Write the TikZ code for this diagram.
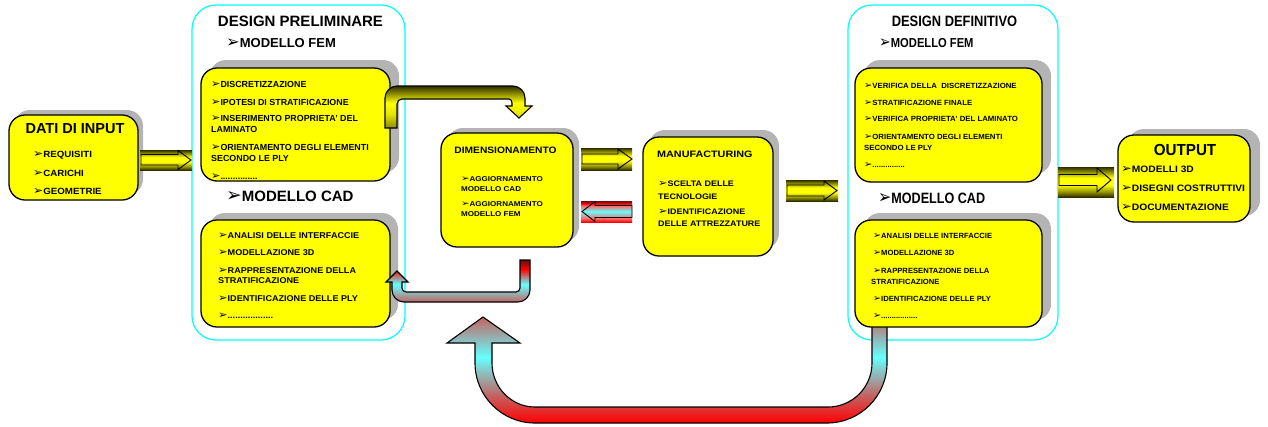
\documentclass[tikz,border=0pt]{standalone}
\usepackage{fontspec}
\setmainfont{Liberation Sans}
\newfontfamily\dv{DejaVu Sans}
\usetikzlibrary{shadows}
\newcommand\bl{{\dv\scalebox{1.25}{➢}}}
\newcommand\T[3]{\scalebox{#1}[1]{\fontsize{#2pt}{#2pt}\selectfont\bfseries #3}}
\definecolor{yel}{RGB}{255,255,0}
\definecolor{cyn}{RGB}{0,255,255}
\definecolor{rd}{RGB}{255,0,0}
\definecolor{ol1}{HTML}{2E2E00}
\definecolor{ol2}{HTML}{8C8C00}
\definecolor{ol3}{HTML}{E6E600}
\definecolor{cy}{HTML}{66FFFF}
\definecolor{rg}{HTML}{C46262}
\definecolor{rd2}{HTML}{FF6666}
\definecolor{rdk}{HTML}{661010}
\definecolor{shd}{HTML}{B4B4B4}
\pgfdeclareverticalshading{ybar}{100bp}{color(0bp)=(ol1); color(25bp)=(ol1); color(33bp)=(ol2); color(45bp)=(yel); color(57bp)=(yel); color(67bp)=(ol2); color(75bp)=(ol1); color(100bp)=(ol1)}
\pgfdeclareverticalshading{ybent}{100bp}{color(0bp)=(ol2); color(25bp)=(ol2); color(42bp)=(ol3); color(55bp)=(yel); color(66bp)=(ol2); color(75bp)=(ol1); color(100bp)=(ol1)}
\pgfdeclareverticalshading{rbar}{100bp}{color(0bp)=(rd); color(25bp)=(rd); color(33bp)=(rd2); color(50bp)=(cy); color(64bp)=(rd2); color(69bp)=(rd); color(75bp)=(rdk); color(100bp)=(rdk)}
\pgfdeclareverticalshading{rsmall}{100bp}{color(0bp)=(rg); color(25bp)=(rg); color(46bp)=(cy); color(64bp)=(rd); color(75bp)=(rdk); color(100bp)=(rdk)}
\pgfdeclareverticalshading{rbig}{100bp}{color(0bp)=(rd); color(25bp)=(rd); color(38bp)=(rg); color(56bp)=(cy); color(75bp)=(rg); color(100bp)=(rg)}
\begin{document}
\begin{tikzpicture}[x=1pt,y=-1pt,
  ybox/.style={draw=black, line width=1.3pt, fill=yel, rounded corners=16pt, inner sep=0pt},
  sh/.style 2 args={general shadow={fill=shd, shadow xshift=#1pt, shadow yshift=#2pt}},
  cbox/.style={draw=cyn, line width=1.2pt, rounded corners=24pt, inner sep=0pt},
  tx/.style={anchor=base west, inner sep=0pt},
  tc/.style={anchor=base, inner sep=0pt},
  aro/.style={draw=black, line width=0.9pt, line join=miter},
  bnd/.style={draw=black, line width=1.1pt}]
\useasboundingbox (0,0) rectangle (1268,426);
% outer cyan frames
\node[cbox, minimum width=213pt, minimum height=335pt] (prel) at (298.5,172.5) {};
\node[cbox, minimum width=210pt, minimum height=335pt] (defi) at (953,172.5) {};
% big feedback arrow
\shade[shading=rbig, bnd] (483,317) -- (520,343) -- (492,343) -- (492,363) .. controls (492,387.3) and (511.3,407) .. (535,407) -- (828,407) .. controls (852.3,407) and (872,387.3) .. (872,363) -- (872,325) -- (887,325) -- (887,363) .. controls (887,396.1) and (860.1,423) .. (827,423) -- (535,423) .. controls (501.9,423) and (475,396.1) .. (475,363) -- (475,343) -- (447,343) -- cycle;
% yellow boxes
\node[ybox, sh={5}{5}, minimum width=129pt, minimum height=85pt] (dati) at (73.5,157.5) {};
\node[ybox, sh={9}{8}, minimum width=189pt, minimum height=113pt] (pfem) at (295.5,124.5) {};
\node[ybox, sh={8}{7}, minimum width=189pt, minimum height=107pt] (pcad) at (295.5,273.5) {};
\node[ybox, sh={6}{5}, minimum width=132pt, minimum height=114pt] (dim) at (507,190) {};
\node[ybox, sh={6}{7}, minimum width=130pt, minimum height=119pt] (manu) at (708,196.5) {};
\node[ybox, sh={9}{8}, minimum width=187pt, minimum height=114pt] (dfem) at (948.5,125) {};
\node[ybox, sh={9}{7}, minimum width=187pt, minimum height=107pt] (dcad) at (948.5,273.5) {};
\node[ybox, sh={10}{6}, minimum width=132pt, minimum height=87pt] (outp) at (1184,178.5) {};
% bent arrows
\shade[shading=ybent, bnd] (385,128) -- (385,98) .. controls (385,91.4) and (390.4,86) .. (397,86) -- (513,86) .. controls (519.6,86) and (525,91.4) .. (525,98) -- (525,106) -- (532,106) -- (519,118) -- (506,106) -- (512,106) -- (512,103) .. controls (512,100.8) and (510.8,99) .. (509,99) -- (402,99) .. controls (399.2,99) and (397,101.2) .. (397,104) -- (397,128) -- cycle;
\shade[shading=rsmall, bnd] (530,260) -- (530,290) .. controls (530,296.6) and (524.6,302) .. (518,302) -- (404,302) .. controls (397.4,302) and (392,296.6) .. (392,290) -- (392,282) -- (386,282) -- (397,271) -- (408,282) -- (402,282) -- (402,288) .. controls (402,290.2) and (403.8,292) .. (406,292) -- (516,292) .. controls (518.2,292) and (520,290.2) .. (520,288) -- (520,260) -- cycle;
% block arrows
\shade[shading=ybar] (140,150) rectangle (192,170);
\draw[aro] (141,154.5) -- (178,154.5) -- (178,150.5) -- (191,160) -- (178,169.5) -- (178,165) -- (141,165) -- cycle;
\shade[shading=ybar] (581,148) rectangle (632,170);
\draw[aro] (582,154) -- (618,154) -- (618,149) -- (632,159) -- (618,169) -- (618,164) -- (582,164) -- cycle;
\shade[shading=rbar] (581,201) rectangle (632,222);
\draw[aro] (632,205.5) -- (595,205.5) -- (595,201.5) -- (582,211.5) -- (595,221.5) -- (595,217.5) -- (632,217.5) -- cycle;
\shade[shading=ybar] (786,180) rectangle (838,201);
\draw[aro] (787,185) -- (824,185) -- (824,181) -- (837,190.5) -- (824,200) -- (824,196) -- (787,196) -- cycle;
\shade[shading=ybar] (1058,167) rectangle (1114,197);
\draw[aro] (1059,174.5) -- (1097,174.5) -- (1097,168) -- (1111,180) -- (1097,192) -- (1097,185.5) -- (1059,185.5) -- cycle;
% DATI DI INPUT
\node[tc] (t1) at (75,133) {\T{1}{14.5}{DATI DI INPUT}};
\node[tx] (t2) at (33,157) {\T{1.08}{9}{\bl REQUISITI}};
\node[tx] (t3) at (33,176) {\T{1.08}{9}{\bl CARICHI}};
\node[tx] (t4) at (33,194) {\T{1.08}{9}{\bl GEOMETRIE}};
% DESIGN PRELIMINARE
\node[tc] (p0) at (300.5,26) {\T{1}{15}{DESIGN PRELIMINARE}};
\node[tx] (p1) at (226,47) {\T{1}{13}{\bl MODELLO FEM}};
\node[tx] (p2) at (211,87) {\T{1.01}{8.8}{\bl DISCRETIZZAZIONE}};
\node[tx] (p3) at (211,105) {\T{1.01}{8.8}{\bl IPOTESI DI STRATIFICAZIONE}};
\node[tx] (p4) at (211,121) {\T{1.01}{8.8}{\bl INSERIMENTO PROPRIETA' DEL}};
\node[tx] (p5) at (211,132) {\T{1.01}{8.8}{LAMINATO}};
\node[tx] (p6) at (211,150) {\T{1.01}{8.8}{\bl ORIENTAMENTO DEGLI ELEMENTI}};
\node[tx] (p7) at (211,161) {\T{1.01}{8.8}{SECONDO LE PLY}};
\node[tx] (p7b) at (211,179) {\T{1.01}{8.8}{\bl ...............}};
\node[tx] (p8) at (226,201) {\T{1}{15}{\bl MODELLO CAD}};
\node[tx] (p9) at (218,238) {\T{1.08}{8.4}{\bl ANALISI DELLE INTERFACCIE}};
\node[tx] (p10) at (218,255) {\T{1.08}{8.4}{\bl MODELLAZIONE 3D}};
\node[tx] (p11) at (218,273) {\T{1.08}{8.4}{\bl RAPPRESENTAZIONE DELLA}};
\node[tx] (p12) at (218,283) {\T{1.08}{8.4}{STRATIFICAZIONE}};
\node[tx] (p13) at (218,301) {\T{1.08}{8.4}{\bl IDENTIFICAZIONE DELLE PLY}};
\node[tx] (p14) at (218,318) {\T{1.08}{8.4}{\bl ..................}};
% DIMENSIONAMENTO
\node[tc] (m0) at (505.5,153) {\T{1.1}{9.3}{DIMENSIONAMENTO}};
\node[tx] (m1) at (461,181) {\T{1.15}{7}{\bl AGGIORNAMENTO}};
\node[tx] (m2) at (461,191) {\T{1.15}{7}{MODELLO CAD}};
\node[tx] (m3) at (461,206) {\T{1.15}{7}{\bl AGGIORNAMENTO}};
\node[tx] (m4) at (461,216) {\T{1.15}{7}{MODELLO FEM}};
% MANUFACTURING
\node[tx] (f0) at (657,157) {\T{1.16}{9.3}{MANUFACTURING}};
\node[tx] (f1) at (658,186.5) {\T{1.12}{8}{\bl SCELTA DELLE}};
\node[tx] (f2) at (658,199.5) {\T{1.12}{8}{TECNOLOGIE}};
\node[tx] (f3) at (658,214.5) {\T{1.12}{8}{\bl IDENTIFICAZIONE}};
\node[tx] (f4) at (658,226.5) {\T{1.12}{8}{DELLE ATTREZZATURE}};
% DESIGN DEFINITIVO
\node[tc] (e0) at (954.5,26) {\T{0.86}{15}{DESIGN DEFINITIVO}};
\node[tx] (e1) at (879,47) {\T{0.86}{13}{\bl MODELLO FEM}};
\node[tx] (e2) at (864,88) {\T{1.04}{7.5}{\bl VERIFICA DELLA\ \ DISCRETIZZAZIONE}};
\node[tx] (e3) at (864,105) {\T{1.04}{7.5}{\bl STRATIFICAZIONE FINALE}};
\node[tx] (e4) at (864,121) {\T{1.04}{7.5}{\bl VERIFICA PROPRIETA' DEL LAMINATO}};
\node[tx] (e5) at (864,139) {\T{1.04}{7.5}{\bl ORIENTAMENTO DEGLI ELEMENTI}};
\node[tx] (e6) at (864,150) {\T{1.04}{7.5}{SECONDO LE PLY}};
\node[tx] (e7) at (864,167) {\T{1.04}{7.5}{\bl ...............}};
\node[tx] (e8) at (878,203) {\T{0.84}{15}{\bl MODELLO CAD}};
\node[tx] (e9) at (873,238) {\T{1.02}{7.5}{\bl ANALISI DELLE INTERFACCIE}};
\node[tx] (e10) at (873,255) {\T{1.02}{7.5}{\bl MODELLAZIONE 3D}};
\node[tx] (e11) at (873,273) {\T{1.02}{7.5}{\bl RAPPRESENTAZIONE DELLA}};
\node[tx] (e12) at (871,284) {\T{1.02}{7.5}{STRATIFICAZIONE}};
\node[tx] (e13) at (873,301) {\T{1.02}{7.5}{\bl IDENTIFICAZIONE DELLE PLY}};
\node[tx] (e14) at (873,318) {\T{1.02}{7.5}{\bl .................}};
% OUTPUT
\node[tc] (o0) at (1185,155) {\T{0.95}{16}{OUTPUT}};
\node[tx] (o1) at (1121,172) {\T{1.1}{9.3}{\bl MODELLI 3D}};
\node[tx] (o2) at (1121,191) {\T{1.1}{9.3}{\bl DISEGNI COSTRUTTIVI}};
\node[tx] (o3) at (1121,210) {\T{1.1}{9.3}{\bl DOCUMENTAZIONE}};
\end{tikzpicture}
\end{document}
